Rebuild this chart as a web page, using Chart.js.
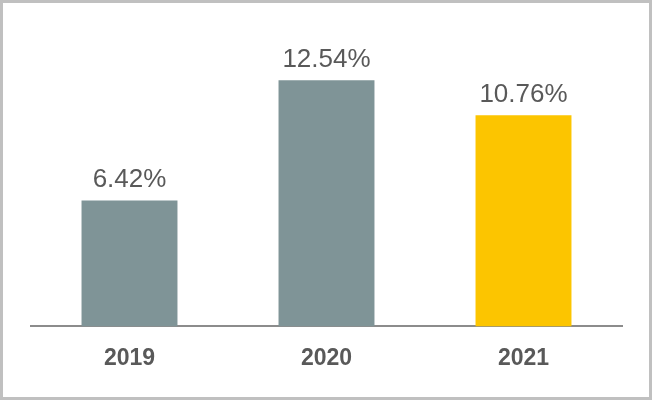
<!DOCTYPE html>
<html>
<head>
<meta charset="utf-8">
<script src="https://cdn.jsdelivr.net/npm/chart.js@4/dist/chart.umd.min.js"></script>
<style>
  html, body { margin: 0; padding: 0; background: #fff; }
  #wrap { position: relative; width: 652px; height: 400px; }
  #frame {
    position: absolute; left: 0; top: 0; width: 652px; height: 400px;
    box-sizing: border-box; border: 3px solid #c0c0c0; pointer-events: none;
  }
  canvas { position: absolute; left: 0; top: 0; }
</style>
</head>
<body>
<div id="wrap">
  <canvas id="chart" width="652" height="400"></canvas>
  <div id="frame"></div>
</div>
<script>
const years = ['2019', '2020', '2021']
const rates = [6.42, 12.54, 10.76]
const barColors = ['#7f9497', '#7f9497', '#fcc500']

const valueLabels = {
  id: 'valueLabels',
  afterDatasetsDraw(chart) {
    const { ctx } = chart
    const meta = chart.getDatasetMeta(0)
    ctx.save()
    ctx.font = '26px "Liberation Sans", Arial, sans-serif'
    ctx.fillStyle = '#595959'
    ctx.textAlign = 'center'
    ctx.textBaseline = 'alphabetic'
    meta.data.forEach((bar, i) => {
      ctx.fillText(rates[i].toFixed(2) + '%', bar.x, bar.y - 13)
    })
    ctx.restore()
  }
}

new Chart(document.getElementById('chart').getContext('2d'), {
  type: 'bar',
  data: {
    labels: years,
    datasets: [{
      data: rates,
      backgroundColor: barColors,
      barPercentage: 0.487,
      categoryPercentage: 1
    }]
  },
  options: {
    responsive: false,
    animation: false,
    layout: { padding: { top: 32, left: 31, right: 30, bottom: 10 } },
    plugins: {
      legend: { display: false },
      tooltip: { enabled: false }
    },
    scales: {
      x: {
        grid: { display: false, drawTicks: false },
        border: { display: true, color: '#8c8c8c', width: 2 },
        ticks: {
          padding: 18,
          color: '#595959',
          font: { family: '"Liberation Sans", Arial, sans-serif', size: 23, weight: 'bold' }
        }
      },
      y: {
        display: false,
        min: 0,
        max: 15
      }
    }
  },
  plugins: [valueLabels]
})
</script>
</body>
</html>
